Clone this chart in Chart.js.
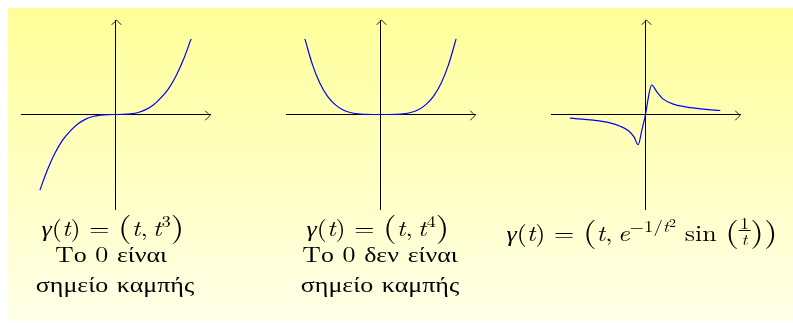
<!DOCTYPE html>
<html>
<head>
<meta charset="utf-8">
<title>Σημεία καμπής</title>
<script src="https://cdn.jsdelivr.net/npm/chart.js@4.4.1/dist/chart.umd.min.js"></script>
<style>
  html, body { margin: 0; padding: 0; background: #fff; }
  #page {
    position: absolute; left: 8px; top: 8px; width: 785px; height: 313px;
    background: linear-gradient(#ffff99, #ffffe8);
  }
  canvas { position: absolute; top: 14px; }
  .label {
    position: absolute; width: 320px; text-align: center; white-space: nowrap;
    font-family: "Latin Modern Roman", "Liberation Serif", serif; font-size: 22px;
    line-height: 24px; color: #000;
    transform: scaleX(1.18); transform-origin: 160px 0;
  }
  .label i { font-style: italic; }
  .big { font-size: 1.35em; line-height: 0; position: relative; top: 1px; }
  .sup { font-size: 0.72em; vertical-align: 0.55em; line-height: 0; }
  .sup2 { font-size: 0.75em; vertical-align: 0.4em; line-height: 0; }
  .frac { display: inline-block; vertical-align: -0.3em; font-size: 0.7em; line-height: 1; text-align: center; }
  .frac span { display: block; padding: 0 1px; }
  .frac .num { border-bottom: 1px solid #000; }
</style>
</head>
<body>
<div id="page"></div>
<canvas id="c1" width="201" height="201" style="left:15px"></canvas>
<canvas id="c2" width="201" height="201" style="left:280px"></canvas>
<canvas id="c3" width="201" height="201" style="left:545px"></canvas>

<div class="label" style="left:-47px; top:215px"><i>γ</i>(<i>t</i>) = <span class="big">(</span><i>t</i>,&thinsp;<i>t</i><span class="sup">3</span><span class="big">)</span></div>
<div class="label" style="left:-49px; top:241px">Το 0 είναι</div>
<div class="label" style="left:-45px; top:271px">σημείο καμπής</div>

<div class="label" style="left:218px; top:215px"><i>γ</i>(<i>t</i>) = <span class="big">(</span><i>t</i>,&thinsp;<i>t</i><span class="sup">4</span><span class="big">)</span></div>
<div class="label" style="left:220px; top:241px">Το 0 δεν είναι</div>
<div class="label" style="left:220px; top:271px">σημείο καμπής</div>

<div class="label" style="left:482px; top:215px"><i>γ</i>(<i>t</i>) = <span class="big">(</span><i>t</i>,&thinsp;<i>e</i><span class="sup">−1/<i>t</i><span class="sup2">2</span></span> sin <span class="big">(</span><span class="frac"><span class="num">1</span><span><i>t</i></span></span><span class="big">)</span><span class="big">)</span></div>

<script>
// sampled points of each curve (t, y)
const cubicT = [-1.0, -0.9, -0.8, -0.7, -0.6, -0.5, -0.4, -0.3, -0.2, -0.1, 0, 0.1, 0.2, 0.3, 0.4, 0.5, 0.6, 0.7, 0.8, 0.9, 1.0];
const cubicY = [-1.0, -0.73, -0.51, -0.34, -0.22, -0.125, -0.064, -0.027, -0.008, -0.001, 0, 0.001, 0.008, 0.027, 0.064, 0.125, 0.22, 0.34, 0.51, 0.73, 1.0];

const quarticT = [-1.0, -0.9, -0.8, -0.7, -0.6, -0.5, -0.4, -0.3, -0.2, -0.1, 0, 0.1, 0.2, 0.3, 0.4, 0.5, 0.6, 0.7, 0.8, 0.9, 1.0];
const quarticY = [1.0, 0.66, 0.41, 0.24, 0.13, 0.063, 0.026, 0.008, 0.002, 0.0001, 0, 0.0001, 0.002, 0.008, 0.026, 0.063, 0.13, 0.24, 0.41, 0.66, 1.0];

const flatT = [-1.0, -0.69, -0.47, -0.335, -0.225, -0.15, -0.097, -0.049, 0, 0.044, 0.08, 0.15, 0.24, 0.37, 0.55, 0.77, 0.99];
const flatY = [-0.049, -0.075, -0.11, -0.155, -0.216, -0.30, -0.40, -0.21, 0, 0.26, 0.39, 0.30, 0.20, 0.137, 0.097, 0.071, 0.053];

const axisMin = -1.25;
const axisMax = 1.25;

// open "->" style arrow heads at the ends of both axes
const arrowHeads = {
    id: "arrowHeads",
    afterDatasetsDraw(chart) {
        const { ctx, chartArea, scales } = chart;
        const x0 = Math.round(scales.x.getPixelForValue(0)) + 0.5;
        const y0 = Math.round(scales.y.getPixelForValue(0)) + 0.5;
        const s = 4.5;
        ctx.save();
        ctx.strokeStyle = "#000";
        ctx.lineWidth = 0.9;
        ctx.lineCap = "round";
        // x axis
        const xe = chartArea.right;
        ctx.beginPath();
        ctx.moveTo(xe - s, y0 - s);
        ctx.quadraticCurveTo(xe - s * 0.3, y0 - s * 0.3, xe, y0);
        ctx.quadraticCurveTo(xe - s * 0.3, y0 + s * 0.3, xe - s, y0 + s);
        ctx.stroke();
        // y axis
        const ye = chartArea.top;
        ctx.beginPath();
        ctx.moveTo(x0 - s, ye + s);
        ctx.quadraticCurveTo(x0 - s * 0.3, ye + s * 0.3, x0, ye);
        ctx.quadraticCurveTo(x0 + s * 0.3, ye + s * 0.3, x0 + s, ye + s);
        ctx.stroke();
        ctx.restore();
    }
};

function makeCurve(id, ts, ys) {
    const ctx = document.getElementById(id).getContext("2d");
    return new Chart(ctx, {
        type: "scatter",
        data: {
            datasets: [{
                data: ts.map((t, i) => ({ x: t, y: ys[i] })),
                showLine: true,
                borderColor: "#0000ff",
                borderWidth: 1.2,
                pointRadius: 0,
                cubicInterpolationMode: "monotone"
            }]
        },
        options: {
            responsive: false,
            animation: false,
            events: [],
            layout: { padding: 6, autoPadding: false },
            plugins: {
                legend: { display: false },
                tooltip: { enabled: false }
            },
            scales: {
                x: {
                    type: "linear",
                    min: axisMin,
                    max: axisMax,
                    position: { y: 0 },
                    grid: { display: false, drawTicks: false },
                    ticks: { display: false },
                    border: { color: "#000", width: 1 }
                },
                y: {
                    type: "linear",
                    min: axisMin,
                    max: axisMax,
                    position: { x: 0 },
                    grid: { display: false, drawTicks: false },
                    ticks: { display: false },
                    border: { color: "#000", width: 1 }
                }
            }
        },
        plugins: [arrowHeads]
    });
}

makeCurve("c1", cubicT, cubicY);
makeCurve("c2", quarticT, quarticY);
makeCurve("c3", flatT, flatY);
</script>
</body>
</html>
